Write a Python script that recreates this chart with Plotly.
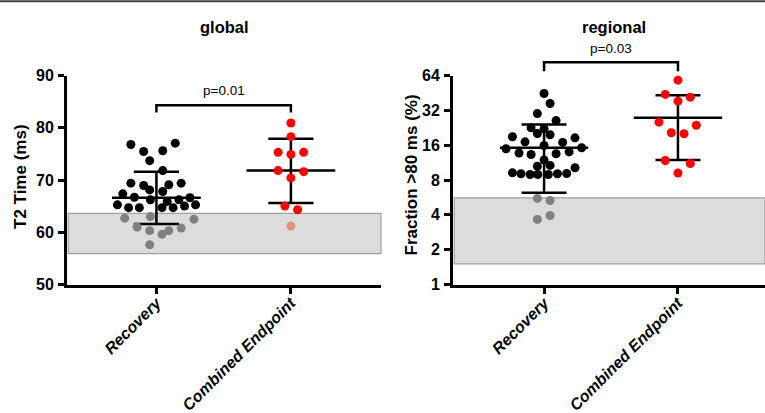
import numpy as np
import plotly.graph_objects as go

# ---------------- data ----------------
categories = ["Recovery", "Combined Endpoint"]

# global T2 (ms)
g_rec_vals = [76.8, 77.05, 75.45, 75.6, 73.7, 71.8, 69.4, 68.95, 69.1, 69.4, 68.1, 67.8,
              67.35, 66.7, 66.2, 66.2, 66.6, 65.25, 64.7, 64.7, 64.7, 64.7, 65.0, 65.25, 65.9,
              62.7, 63.0, 62.5, 61.0, 60.3, 60.3, 60.8, 59.6, 57.6]
g_rec_jit = [-0.19, 0.14, -0.095, 0.047, -0.05, 0.047, -0.19, -0.095, 0.092, 0.184, -0.05, 0.047,
             -0.25, -0.164, -0.045, 0.167, 0.249, -0.29, -0.207, -0.127, 0.042, 0.124, 0.209, 0.291, 0.08,
             -0.236, -0.045, 0.279, -0.144, -0.05, 0.092, 0.184, 0.042, -0.05]
g_ce_vals = [80.9, 78.3, 75.3, 74.9, 75.3, 71.8, 71.6, 70.4, 65.0, 64.3, 61.2]
g_ce_jit = [0.0, 0.0, -0.095, 0.0, 0.095, -0.095, 0.095, 0.0, -0.045, 0.05, 0.0]
g_mean = [66.6, 71.8]
g_sd_hi = [71.6, 77.9]
g_sd_lo = [61.6, 65.6]
g_band = [55.9, 63.6]
g_p = "p=0.01"
g_bracket = [84.3, 82.9]   # bar level, tick ends
g_p_level = 87.2

# regional fraction >80 ms (%)
r_rec_vals = [44.7, 36.7, 30.0, 26.1, 22.6, 22.2, 20.2, 19.7, 18.9, 18.5, 17.1, 16.9, 15.9,
              14.9, 15.2, 13.7, 13.3, 13.5, 14.0, 11.9, 10.5, 10.7, 10.2,
              9.23, 9.06, 8.93, 8.93, 8.93, 9.06, 9.1, 5.55, 5.32, 3.65, 3.95]
r_rec_jit = [0.0, 0.045, -0.05, 0.09, -0.097, 0.0, -0.05, 0.045, -0.236, 0.231, -0.142, 0.139, 0.0,
             -0.284, 0.281, -0.187, -0.097, 0.09, 0.187, 0.0, -0.05, 0.045, 0.231,
             -0.236, -0.172, -0.104, -0.047, 0.032, 0.1, 0.169, -0.05, 0.045, -0.05, 0.045]
r_ce_vals = [58.3, 43.9, 41.6, 38.4, 25.3, 23.8, 20.5, 20.1, 11.8, 11.1, 9.2]
r_ce_jit = [0.0, -0.095, 0.092, 0.0, -0.142, 0.137, -0.05, 0.045, -0.095, 0.092, 0.0]
r_mean = [15.2, 27.6]
r_sd_hi = [24.1, 43.2]
r_sd_lo = [6.2, 11.9]
r_band = [1.51, 5.61]
r_p = "p=0.03"
r_bracket = [83.4, 69.7]
r_p_level = 109.5

FONT = "Liberation Sans, Arial, sans-serif"

W, H = 765, 413
YDOM = [1 - 284.5 / H, 1 - 75.5 / H]
G_XDOM = [67 / W, 381 / W]
R_XDOM = [453 / W, 1.0]
G_XR = [-0.665, 1.67]
R_XR = [-0.68, 1.65]
G_YR = [50, 90]
R_YR = [0, np.log10(64)]

fig = go.Figure()


def panel(xa, ya, xdom, xr, yr, log, rec_vals, rec_jit, ce_vals, ce_jit, mean, sd_hi, sd_lo,
          band, bracket, p_level, ptxt):
    def yfrac(v):
        v = np.log10(v) if log else v
        return (v - yr[0]) / (yr[1] - yr[0])

    def xfrac(v):
        return (v - xr[0]) / (xr[1] - xr[0])

    band_top = band[1]
    rc = ["#808080" if v < band_top else "black" for v in rec_vals]
    cc = ["#e6907f" if v < band_top else "#ff0000" for v in ce_vals]

    # mean / SD lines
    mean_hw, cap_hw = 0.33, 0.168
    for i in range(2):
        xs = [i - mean_hw, i + mean_hw, None, i, i, None,
              i - cap_hw, i + cap_hw, None, i - cap_hw, i + cap_hw]
        ys = [mean[i], mean[i], None, sd_lo[i], sd_hi[i], None,
              sd_hi[i], sd_hi[i], None, sd_lo[i], sd_lo[i]]
        fig.add_trace(go.Scatter(x=xs, y=ys, mode="lines", line=dict(color="black", width=2.5),
                                 xaxis=xa, yaxis=ya, showlegend=False, hoverinfo="skip"))

    fig.add_trace(go.Scatter(x=[0 + j for j in rec_jit], y=rec_vals, mode="markers",
                             marker=dict(size=9, color=rc, line=dict(width=0)),
                             xaxis=xa, yaxis=ya, showlegend=False, cliponaxis=False))
    fig.add_trace(go.Scatter(x=[1 + j for j in ce_jit], y=ce_vals, mode="markers",
                             marker=dict(size=9, color=cc, line=dict(width=0)),
                             xaxis=xa, yaxis=ya, showlegend=False, cliponaxis=False))

    # reference band (normal range)
    fig.add_shape(type="rect", xref=xa + " domain", yref=ya + " domain",
                  x0=0.004, x1=1.0, y0=yfrac(band[0]), y1=yfrac(band[1]),
                  fillcolor="#dcdcdc", line=dict(color="#a0a0a0", width=1.2), layer="below")

    # significance bracket
    x0f, x1f = xfrac(0), xfrac(1)
    yb, yt = yfrac(bracket[0]), yfrac(bracket[1])
    fig.add_shape(type="path", xref=xa + " domain", yref=ya + " domain",
                  path=f"M {x0f},{yt} L {x0f},{yb} L {x1f},{yb} L {x1f},{yt}",
                  line=dict(color="black", width=2.5))
    py = YDOM[0] + yfrac(p_level) * (YDOM[1] - YDOM[0])
    px = xdom[0] + xfrac(0.5) * (xdom[1] - xdom[0])
    fig.add_annotation(x=px, y=py, xref="paper", yref="paper", text=ptxt, showarrow=False,
                       xanchor="center", yanchor="middle",
                       font=dict(family=FONT, size=13.5, color="black"))


panel("x", "y", G_XDOM, G_XR, G_YR, False, g_rec_vals, g_rec_jit, g_ce_vals, g_ce_jit,
      g_mean, g_sd_hi, g_sd_lo, g_band, g_bracket, g_p_level, g_p)
panel("x2", "y2", R_XDOM, R_XR, R_YR, True, r_rec_vals, r_rec_jit, r_ce_vals, r_ce_jit,
      r_mean, r_sd_hi, r_sd_lo, r_band, r_bracket, r_p_level, r_p)

tickfont = dict(family=FONT, size=16, color="black", weight="bold")
xtickfont = dict(family=FONT, size=16, color="black", weight="bold", style="italic")
common_x = dict(tickmode="array", tickvals=[0, 1], ticktext=categories, tickangle=-45,
                showline=True, linecolor="black", linewidth=3, ticks="outside", ticklen=6,
                tickwidth=2.5, tickcolor="black", showgrid=False, zeroline=False,
                tickfont=xtickfont, fixedrange=True, automargin=False, ticklabelstandoff=-6)
common_y = dict(showline=True, linecolor="black", linewidth=3, ticks="outside", ticklen=6,
                tickwidth=2.5, tickcolor="black", showgrid=False, zeroline=False,
                tickfont=tickfont, ticklabelstandoff=1, automargin=False)

fig.update_layout(
    width=W, height=H, margin=dict(l=0, r=0, t=0, b=0, pad=0, autoexpand=False),
    paper_bgcolor="white", plot_bgcolor="white", showlegend=False,
    xaxis=dict(domain=G_XDOM, range=G_XR, anchor="y", **common_x),
    yaxis=dict(domain=YDOM, range=G_YR, tickvals=[50, 60, 70, 80, 90], anchor="x", **common_y),
    xaxis2=dict(domain=R_XDOM, range=R_XR, anchor="y2", **common_x),
    yaxis2=dict(domain=YDOM, type="log", range=R_YR,
                tickvals=[1, 2, 4, 8, 16, 32, 64], ticktext=["1", "2", "4", "8", "16", "32", "64"],
                anchor="x2", **common_y),
)

# titles
for txt, x in [("global", 224), ("regional", 614)]:
    fig.add_annotation(x=x / W, y=1 - 27 / H, xref="paper", yref="paper", text=txt,
                       showarrow=False, xanchor="center", yanchor="middle",
                       font=dict(family=FONT, size=16.5, color="black", weight="bold"))
for txt, x, y in [("T2 Time (ms)", 20, 177), ("Fraction >80 ms (%)", 410.5, 175)]:
    fig.add_annotation(x=x / W, y=1 - y / H, xref="paper", yref="paper", text=txt,
                       textangle=-90, showarrow=False, xanchor="center", yanchor="middle",
                       font=dict(family=FONT, size=17, color="black", weight="bold"))

# top separator line
fig.add_shape(type="line", xref="paper", yref="paper", x0=0, x1=1, y0=1 - 1.2 / H, y1=1 - 1.2 / H,
              line=dict(color="#404040", width=2))

fig.write_html("out.html")
